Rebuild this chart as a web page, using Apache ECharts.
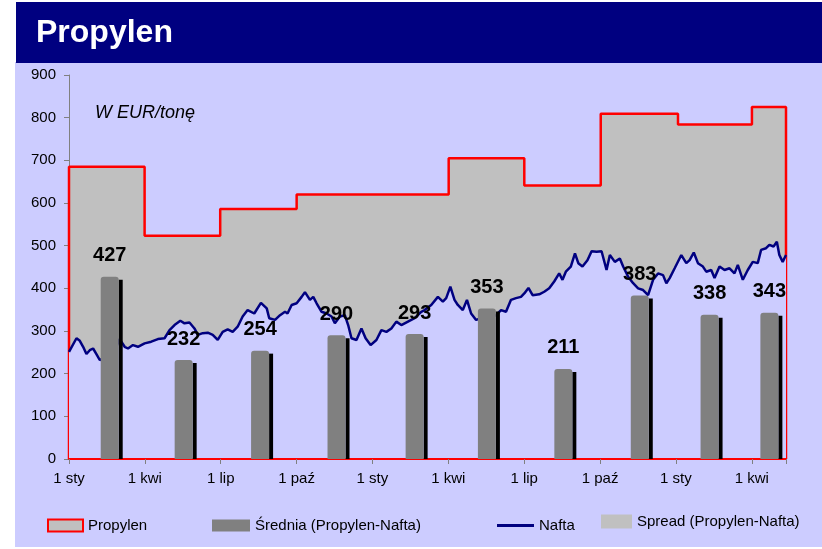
<!DOCTYPE html>
<html>
<head>
<meta charset="utf-8">
<script src="https://cdn.jsdelivr.net/npm/echarts@6/dist/echarts.min.js"></script>
<style>
  html, body { margin: 0; padding: 0; background: #fff; }
  #chart { width: 822px; height: 549px; }
</style>
</head>
<body>
<div id="chart"></div>
<script>
// x = days since 1 sty of the first year
var quarterNames = ['1 sty', '1 kwi', '1 lip', '1 paź']
var quarterDays = 91.31
var lastDay = 863

// Propylen contract price (step line), day where each price starts
var propylenDay = [0, 0, 91, 182, 274, 457, 548, 640, 733, 822, 863, 863]
var propylenVal = [0, 685, 523, 586, 620, 705, 641, 809, 784, 825, 825, 0]

// Nafta [day, price]
var nafta = [
  [0, 251], [9, 283], [13, 277], [17, 263], [21, 246], [25, 255], [29, 259], [33, 246], [37, 232], [43, 238],
  [51, 248], [57, 263], [61, 281], [67, 263], [71, 259], [77, 267], [83, 263], [91, 271], [99, 275], [107, 281],
  [115, 283], [121, 302], [127, 314], [134, 324], [139, 318], [145, 320], [151, 306], [155, 291], [161, 295], [167, 296],
  [173, 291], [179, 279], [185, 298], [191, 304], [197, 298], [203, 310], [209, 334], [215, 349],
  [223, 341], [231, 366], [238, 353], [241, 330], [248, 326], [254, 337], [260, 345], [263, 341], [268, 361], [274, 365],
  [280, 380], [284, 391], [290, 373], [294, 380], [298, 365], [304, 345], [310, 341], [316, 334], [320, 318], [326, 334],
  [332, 337], [336, 314], [340, 283], [346, 279], [352, 306], [357, 283], [363, 267], [370, 279], [376, 302], [382, 298],
  [388, 306], [394, 322], [400, 314], [408, 322], [416, 330], [424, 345],
  [428, 349], [436, 361], [444, 380], [450, 369], [454, 377], [459, 404], [464, 373], [468, 361], [474, 349], [479, 373],
  [484, 341], [490, 326], [498, 331], [506, 330], [514, 337], [520, 349], [526, 345], [532, 373], [538, 377], [544, 380],
  [548, 388], [553, 401], [558, 384], [566, 386], [572, 392], [578, 400], [584, 416], [590, 435], [594, 420], [598, 439],
  [604, 451], [609, 482], [613, 459], [618, 451], [624, 466], [629, 487], [635, 486], [641, 487], [647, 443],
  [651, 478], [657, 462], [663, 470], [667, 451], [673, 427], [679, 412], [685, 400], [691, 396], [697, 384], [703, 420],
  [709, 435], [715, 431], [719, 412], [723, 424], [729, 447], [737, 478], [743, 459], [747, 466], [752, 484], [757, 459],
  [763, 451], [767, 439], [773, 443], [777, 424], [783, 451], [789, 443], [795, 447], [801, 435], [805, 455], [811, 420],
  [817, 443], [823, 462], [829, 459], [833, 490], [839, 494], [843, 502], [848, 498], [852, 509], [855, 478], [859, 462],
  [863, 478]
]

// quarterly average spread
var spreadDay = [49, 138, 230, 322, 416, 503, 595, 687, 771, 843]
var spreadAvg = [427, 232, 254, 290, 293, 353, 211, 383, 338, 343]

var font = 'Liberation Sans, Arial, sans-serif'

var chart = echarts.init(document.getElementById('chart'))

function legendAt(left, top, name, w, h, style) {
  return {
    left: left, top: top, padding: 0, selectedMode: false,
    itemWidth: w, itemHeight: h,
    textStyle: { fontFamily: font, fontSize: 15, color: '#000' },
    data: [{ name: name, icon: 'rect', itemStyle: style }]
  }
}

// gray bar with a black drop shadow on the right and the value above it
function renderBar(params, api) {
  var top = api.coord([api.value(0), api.value(1)])
  var base = api.coord([api.value(0), 0])
  var w = 18
  var x0 = top[0] - w / 2
  return {
    type: 'group',
    children: [
      {
        type: 'rect',
        shape: { x: x0 + w, y: top[1] + 3, width: 4, height: base[1] - top[1] - 3 },
        style: { fill: '#000' }
      },
      {
        type: 'rect',
        shape: { x: x0, y: top[1], width: w, height: base[1] - top[1], r: [3, 3, 0, 0] },
        style: { fill: '#808080' }
      },
      {
        type: 'text',
        x: top[0], y: top[1] - 11,
        style: {
          text: String(api.value(1)), fill: '#000',
          font: 'bold 20px ' + font, align: 'center', verticalAlign: 'bottom'
        }
      }
    ]
  }
}

chart.setOption({
  animation: false,
  backgroundColor: '#fff',
  title: {
    text: 'Propylen', left: 36, top: 17, padding: 0,
    textStyle: { color: '#fff', fontSize: 32, fontWeight: 'bold', fontFamily: font }
  },
  graphic: [
    { type: 'rect', z: -10, shape: { x: 15, y: 62, width: 807, height: 485 }, style: { fill: '#CCCCFF' } },
    { type: 'rect', z: -9, shape: { x: 16, y: 2, width: 806, height: 61 }, style: { fill: '#000080' } },
    {
      type: 'text', z: 10, x: 95, y: 113,
      style: { text: 'W EUR/tonę', font: 'italic 18px ' + font, fill: '#000', textVerticalAlign: 'middle' }
    }
  ],
  legend: [
    legendAt(47, 518, 'Propylen', 35, 12, { color: '#C0C0C0', borderColor: '#FF0000', borderWidth: 2 }),
    legendAt(212, 518, 'Średnia (Propylen-Nafta)', 38, 12, { color: '#808080' }),
    legendAt(497, 518, 'Nafta', 37, 3, { color: '#000080' }),
    legendAt(601, 514, 'Spread (Propylen-Nafta)', 31, 14, { color: '#C0C0C0' })
  ],
  grid: { left: 69, right: 36, top: 75, bottom: 90 },
  xAxis: {
    type: 'value', min: 0, max: lastDay, interval: quarterDays, z: 4,
    axisLine: { lineStyle: { color: '#FF0000', width: 2 } },
    axisTick: { length: 5, lineStyle: { color: '#808080' } },
    splitLine: { show: false },
    axisLabel: {
      margin: 12, color: '#000', fontSize: 15, fontFamily: font,
      formatter: function (v) {
        var i = Math.round(v / quarterDays)
        if (Math.abs(v - i * quarterDays) > 1) return ''
        return quarterNames[i % 4]
      }
    }
  },
  yAxis: {
    type: 'value', min: 0, max: 900, interval: 100,
    axisLine: { show: true, lineStyle: { color: '#808080' } },
    axisTick: { show: true, length: 5, lineStyle: { color: '#808080' } },
    splitLine: { show: false },
    axisLabel: { margin: 13, color: '#000', fontSize: 15, fontFamily: font }
  },
  series: [
    {
      name: 'Propylen', type: 'line', step: 'end', z: 2,
      symbol: 'none',
      data: propylenDay.map(function (d, i) { return [d, propylenVal[i]] }),
      lineStyle: { color: '#FF0000', width: 2.5 },
      itemStyle: { color: '#FF0000' },
      areaStyle: { color: '#C0C0C0', opacity: 1 }
    },
    {
      name: 'Nafta', type: 'line', z: 3,
      symbol: 'none',
      data: nafta,
      lineStyle: { color: '#000080', width: 2.5 },
      itemStyle: { color: '#000080' },
      areaStyle: { color: '#CCCCFF', opacity: 1 }
    },
    {
      name: 'Spread (Propylen-Nafta)', type: 'line', data: []
    },
    {
      name: 'Średnia (Propylen-Nafta)', type: 'custom', z: 5,
      renderItem: renderBar,
      itemStyle: { color: '#808080' },
      data: spreadDay.map(function (d, i) { return [d, spreadAvg[i]] })
    }
  ]
})
</script>
</body>
</html>
